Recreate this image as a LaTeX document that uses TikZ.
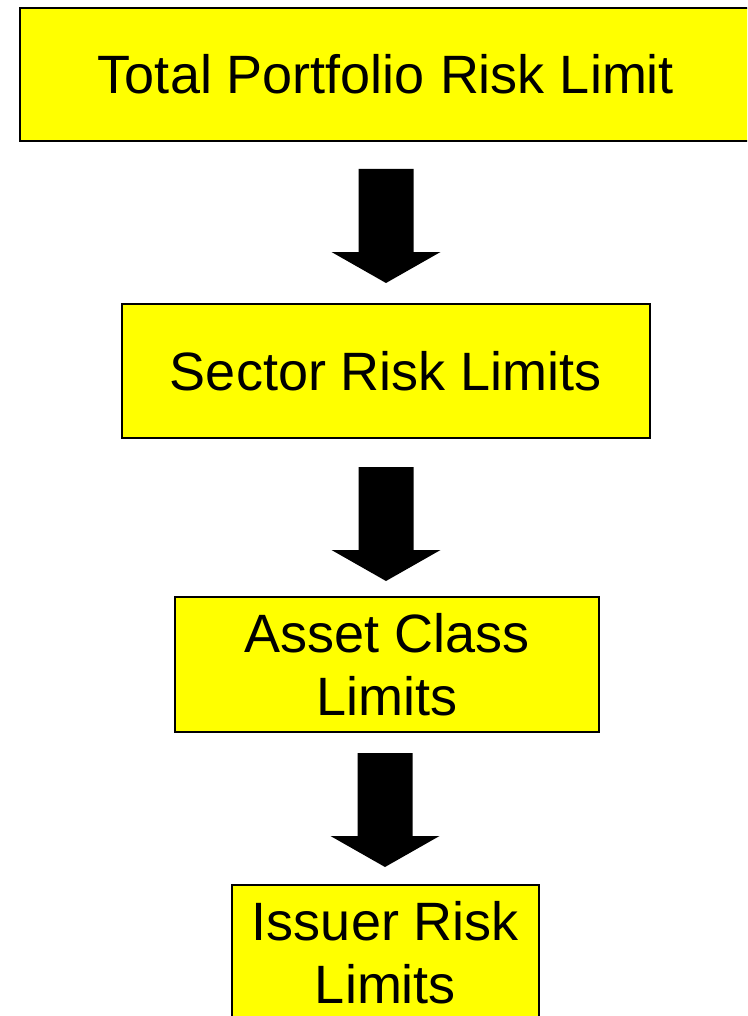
\documentclass[tikz,border=0pt]{standalone}
\usepackage{fontspec}
\setmainfont{Liberation Sans}
\definecolor{limityellow}{RGB}{255,255,0}
\begin{document}
\begin{tikzpicture}[x=0.75pt,y=-0.75pt,
    limitbox/.style={draw=black, line width=1.1pt, fill=limityellow, inner sep=0pt,
        align=center, font=\fontsize{40.5}{47}\selectfont},
    blockarrow/.pic={
        \fill[black] (-27.5,0) -- (27.5,0) -- (27.5,83) -- (54.5,83)
            -- (0,114) -- (-54.5,83) -- (-27.5,83) -- cycle;
    }]
    \useasboundingbox (0,0) rectangle (747,1016);
    \clip (0,0) rectangle (747,1016);

    % the four levels of limits
    \node[limitbox, minimum width=549pt, minimum height=99.75pt] (total) at (386,74.5) {Total Portfolio Risk Limit};
    \node[limitbox, minimum width=396pt, minimum height=100.5pt] (sector) at (386,371) {Sector Risk Limits};
    \node[limitbox, minimum width=318pt, minimum height=101.25pt] (asset) at (387,664.5) {Asset Class\\Limits};
    \node[limitbox, minimum width=230.25pt, minimum height=101.25pt] (issuer) at (385.5,952.5) {Issuer Risk\\Limits};

    % big arrows between the levels
    \pic at (386,169) {blockarrow};
    \pic at (386,467) {blockarrow};
    \pic at (385,753) {blockarrow};
\end{tikzpicture}
\end{document}
